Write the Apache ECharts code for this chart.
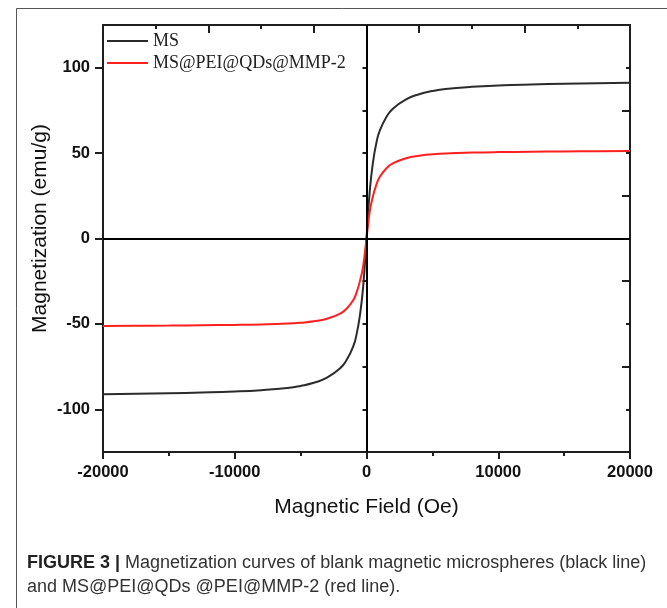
<!DOCTYPE html>
<html>
<head>
<meta charset="utf-8">
<script src="https://cdn.jsdelivr.net/npm/echarts@6/dist/echarts.min.js"></script>
<style>
  html, body { margin: 0; padding: 0; background: #fff; }
  #mag { width: 667px; height: 608px; }
</style>
</head>
<body>
<div id="mag"></div>
<script>
// field values (Oe)
const field = [-20000, -17500, -15000, -12500, -10000, -8000, -6000, -5000, -4000, -3000, -2000, -1500, -1000, -750, -500, -250, 0,
  250, 500, 750, 1000, 1500, 2000, 3000, 4000, 5000, 6000, 8000, 10000, 12500, 15000, 17500, 20000];
// MS (black line)
const msVals = [-91.2, -90.9, -90.6, -90.2, -89.6, -88.8, -87.5, -86.3, -84.5, -81.5, -76, -71, -63, -56, -45, -28, 0,
  28, 45, 56, 63, 71, 76, 81.5, 84.5, 86.3, 87.5, 88.8, 89.6, 90.2, 90.6, 90.9, 91.2];
// MS@PEI@QDs@MMP-2 (red line)
const mmpVals = [-51.2, -51.1, -51, -50.8, -50.6, -50.3, -49.8, -49.3, -48.5, -47, -44, -41, -36, -31.5, -25, -16, 0,
  16, 25, 31.5, 36, 41, 44, 47, 48.5, 49.3, 49.8, 50.3, 50.6, 50.8, 51, 51.1, 51.2];

const yLabelValues = [-100, -50, 0, 50, 100];
const seriesNames = ['MS', 'MS@PEI@QDs@MMP-2'];

function pairs(vals) {
  return field.map((h, i) => [h, vals[i]]);
}

let myChart = echarts.init(document.getElementById('mag'));
const frame = '#1e1e1e';

myChart.setOption({
  animation: false,
  grid: { left: 103, right: 37, top: 25, bottom: 156 },
  legend: {
    orient: 'vertical',
    left: 107,
    top: 32,
    padding: 0,
    icon: 'rect',
    itemWidth: 41,
    itemHeight: 2,
    itemGap: 4,
    textStyle: { fontFamily: 'Liberation Serif', fontSize: 18, lineHeight: 18, color: '#222' },
    data: seriesNames
  },
  xAxis: [
    {
      type: 'value', position: 'bottom', min: -20000, max: 20000, interval: 10000,
      name: 'Magnetic Field (Oe)', nameLocation: 'middle', nameGap: 45,
      nameTextStyle: { fontFamily: 'Liberation Sans', fontSize: 21, color: '#111' },
      axisLine: { show: true, onZero: false, lineStyle: { color: frame, width: 2 } },
      axisTick: { show: true, inside: false, length: 7, lineStyle: { color: frame, width: 2 } },
      minorTick: { show: true, splitNumber: 2, length: 4, lineStyle: { color: frame, width: 2 } },
      axisLabel: {
        margin: 12, fontFamily: 'Liberation Sans', fontWeight: 'bold', fontSize: 16.5, color: '#111',
        formatter: v => String(v)
      },
      splitLine: { show: false }
    },
    {
      type: 'value', position: 'top', min: -20000, max: 20000, interval: 8000,
      axisLine: { show: true, onZero: false, lineStyle: { color: frame, width: 2 } },
      axisTick: { show: true, inside: true, length: 8, lineStyle: { color: frame, width: 2 } },
      minorTick: { show: true, splitNumber: 2, length: 4, lineStyle: { color: frame, width: 2 } },
      axisLabel: { show: false },
      splitLine: { show: false }
    }
  ],
  yAxis: [
    {
      type: 'value', position: 'left', min: -125, max: 125,
      name: 'Magnetization (emu/g)', nameLocation: 'middle', nameGap: 52, nameMoveOverlap: false,
      nameTextStyle: { fontFamily: 'Liberation Sans', fontSize: 21, color: '#111', padding: [0, 0, 0, 20] },
      axisLine: { show: true, onZero: false, lineStyle: { color: frame, width: 2 } },
      axisTick: { show: true, inside: false, length: 8, customValues: yLabelValues, lineStyle: { color: frame, width: 2 } },
      axisLabel: { margin: 13, customValues: yLabelValues, fontFamily: 'Liberation Sans', fontWeight: 'bold', fontSize: 16.5, color: '#111' },
      splitLine: { show: false }
    },
    {
      type: 'value', position: 'right', min: -125, max: 125, interval: 50,
      axisLine: { show: true, onZero: false, lineStyle: { color: frame, width: 2 } },
      axisTick: { show: true, inside: true, length: 8, lineStyle: { color: frame, width: 2 } },
      minorTick: { show: true, splitNumber: 2, length: 4, lineStyle: { color: frame, width: 2 } },
      axisLabel: { show: false },
      splitLine: { show: false }
    },
    {
      // short outward ticks between the labelled ones
      type: 'value', position: 'left', min: -125, max: 125, interval: 25,
      axisLine: { show: false },
      axisTick: { show: true, inside: false, length: 4, lineStyle: { color: frame, width: 2 } },
      axisLabel: { show: false },
      splitLine: { show: false }
    }
  ],
  series: [
    {
      name: seriesNames[0], type: 'line', smooth: true, symbol: 'none',
      xAxisIndex: 0, yAxisIndex: 0,
      lineStyle: { color: '#2b2b2b', width: 2 }, itemStyle: { color: '#2b2b2b' },
      data: pairs(msVals),
      markLine: {
        silent: true, symbol: ['none', 'none'], label: { show: false },
        lineStyle: { color: '#000', width: 2, type: 'solid' },
        data: [{ yAxis: 0 }, { xAxis: 0 }]
      }
    },
    {
      name: seriesNames[1], type: 'line', smooth: true, symbol: 'none',
      xAxisIndex: 0, yAxisIndex: 0,
      lineStyle: { color: '#ff1f1f', width: 2 }, itemStyle: { color: '#ff1f1f' },
      data: pairs(mmpVals)
    }
  ],
  graphic: [
    {
      type: 'rect', left: 14, top: 6, silent: true,
      shape: { width: 700, height: 700 },
      style: { fill: 'none', stroke: '#555', lineWidth: 1 }
    },
    {
      type: 'text', left: 27, top: 551, silent: true,
      style: {
        text: '{b|FIGURE 3 |} Magnetization curves of blank magnetic microspheres (black line)\nand MS@PEI@QDs @PEI@MMP-2 (red line).',
        fontFamily: 'Liberation Sans', fontSize: 18, lineHeight: 24, fill: '#333',
        rich: { b: { fontFamily: 'Liberation Sans', fontWeight: 'bold', fontSize: 18, lineHeight: 24, fill: '#222' } }
      }
    }
  ]
});
</script>
</body>
</html>
